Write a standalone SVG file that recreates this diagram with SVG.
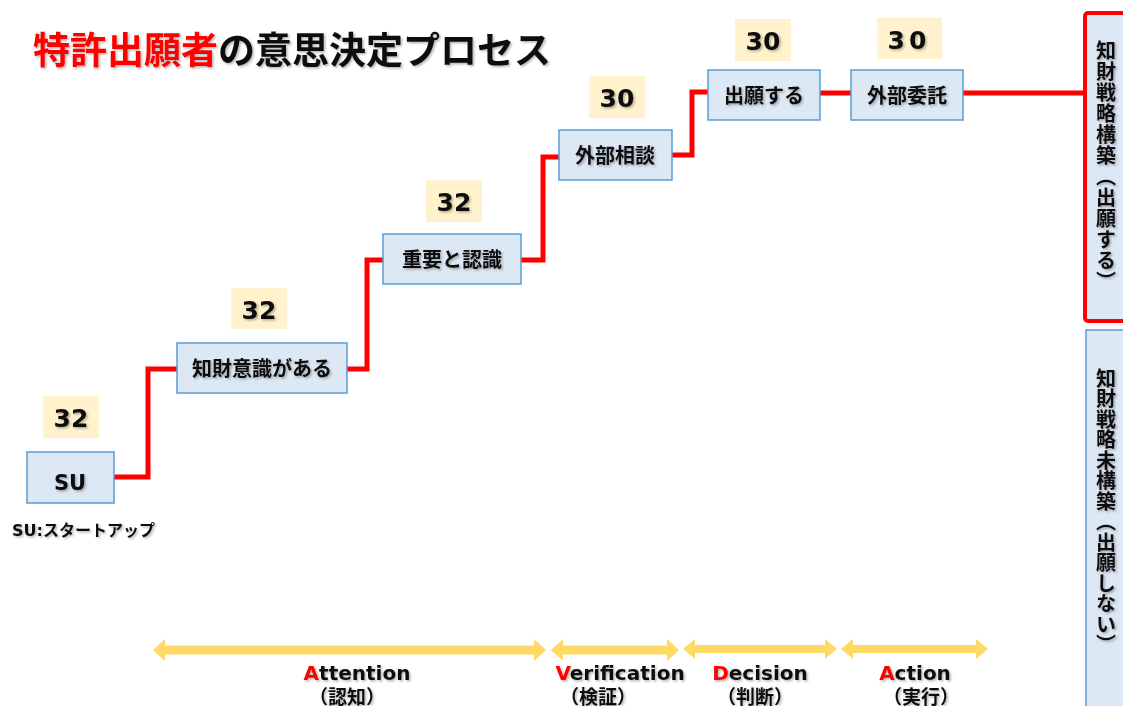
<svg xmlns="http://www.w3.org/2000/svg" width="1123" height="706" viewBox="0 0 1123 706">
  <defs>
    <filter id="sh" x="-10%" y="-30%" width="130%" height="160%">
      <feDropShadow dx="1.5" dy="1.5" stdDeviation="1" flood-color="#000" flood-opacity="0.3"/>
    </filter>
  </defs>
  <style>
    .t { font-family: "DejaVu Sans", "Noto Sans CJK JP", sans-serif; font-weight: bold; fill: #111; }
    .box { fill: #dde8f5; stroke: #5b9bd5; stroke-width: 1.5; }
    .num { fill: #fff2cc; }
    .conn { fill: none; stroke: #ff0000; stroke-width: 5; stroke-linejoin: miter; }
    .arrow { fill: #ffd966; }
    .red { fill: #ff0000; }
    .vt { writing-mode: vertical-rl; font-family: "Noto Sans CJK JP", sans-serif; font-weight: bold; fill: #111; font-size: 20px; }
  </style>
  <rect width="1123" height="706" fill="#ffffff"/>

  <!-- Title -->
  <text class="t" x="33" y="64" font-size="37" filter="url(#sh)" style="font-family:'Noto Sans CJK JP',sans-serif"><tspan class="red">特許出願者</tspan>の意思決定プロセス</text>

  <!-- Connectors -->
  <g id="connectors">
    <path class="conn" d="M114,477 H148 V369 H177"/>
    <path class="conn" d="M347,369 H367 V260 H383"/>
    <path class="conn" d="M521,260 H543 V157 H559"/>
    <path class="conn" d="M672,155 H692 V92 H708"/>
    <path class="conn" d="M820,93 H851"/>
    <path class="conn" d="M963,93 H1085"/>
  </g>

  <!-- Nodes -->
  <g id="node-su">
    <rect class="num" x="43" y="396" width="56" height="42"/>
    <text class="t" x="71" y="427" font-size="25" text-anchor="middle" filter="url(#sh)">32</text>
    <rect class="box" x="27" y="452" width="87" height="51"/>
    <text class="t" x="70" y="490" font-size="21" text-anchor="middle" filter="url(#sh)">SU</text>
    <text class="t" x="12" y="536" font-size="16" filter="url(#sh)">SU:スタートアップ</text>
  </g>
  <g id="node-chizai">
    <rect class="num" x="231" y="288" width="56" height="41"/>
    <text class="t" x="259" y="319" font-size="25" text-anchor="middle" filter="url(#sh)">32</text>
    <rect class="box" x="177" y="343" width="170" height="50"/>
    <text class="t" x="262" y="376" font-size="20" text-anchor="middle" filter="url(#sh)">知財意識がある</text>
  </g>
  <g id="node-juyo">
    <rect class="num" x="426" y="180" width="56" height="42"/>
    <text class="t" x="454" y="211" font-size="25" text-anchor="middle" filter="url(#sh)">32</text>
    <rect class="box" x="383" y="234" width="138" height="50"/>
    <text class="t" x="452" y="267" font-size="20" text-anchor="middle" filter="url(#sh)">重要と認識</text>
  </g>
  <g id="node-sodan">
    <rect class="num" x="589" y="76" width="56" height="42"/>
    <text class="t" x="617" y="107" font-size="25" text-anchor="middle" filter="url(#sh)">30</text>
    <rect class="box" x="559" y="130" width="113" height="50"/>
    <text class="t" x="615" y="163" font-size="20" text-anchor="middle" filter="url(#sh)">外部相談</text>
  </g>
  <g id="node-shutsugan">
    <rect class="num" x="735" y="19" width="56" height="42"/>
    <text class="t" x="763" y="50" font-size="25" text-anchor="middle" filter="url(#sh)">30</text>
    <rect class="box" x="708" y="70" width="112" height="50"/>
    <text class="t" x="764" y="103" font-size="20" text-anchor="middle" filter="url(#sh)">出願する</text>
  </g>
  <g id="node-itaku">
    <rect class="num" x="877" y="18" width="65" height="41"/>
    <text class="t" x="909" y="49" font-size="25" text-anchor="middle" filter="url(#sh)" letter-spacing="4">30</text>
    <rect class="box" x="851" y="70" width="112" height="50"/>
    <text class="t" x="907" y="103" font-size="20" text-anchor="middle" filter="url(#sh)">外部委託</text>
  </g>
  <g id="node-kouchiku">
    <rect x="1085" y="13" width="60" height="308" rx="3" fill="#dde8f5" stroke="#ff0000" stroke-width="4"/>
    <text class="vt" x="1106" y="40" letter-spacing="1" filter="url(#sh)">知財戦略構築（出願する）</text>
  </g>
  <g id="node-mikouchiku">
    <rect class="box" x="1086" y="330" width="60" height="400"/>
    <text class="vt" x="1106" y="368" letter-spacing="0.5" filter="url(#sh)">知財戦略未構築（出願しない）</text>
  </g>

  <!-- Phase arrows -->
  <g id="phases">
    <path class="arrow" d="M153,650 L165,639 V645.5 H534 V639 L546,650 L534,661 V654.5 H165 V661 Z"/>
    <path class="arrow" d="M551,650 L563,639 V645.5 H667 V639 L679,650 L667,661 V654.5 H563 V661 Z"/>
    <path class="arrow" d="M683,649 L695,639 V645 H825 V639 L837,649 L825,659 V653 H695 V659 Z"/>
    <path class="arrow" d="M841,649 L853,639 V645 H976 V639 L988,649 L976,659 V653 H853 V659 Z"/>
    <text class="t" x="357" y="680" font-size="20" text-anchor="middle" filter="url(#sh)"><tspan class="red">A</tspan>ttention</text>
    <text class="t" x="347" y="704" font-size="19" text-anchor="middle" filter="url(#sh)">（認知）</text>
    <text class="t" x="620" y="680" font-size="20" text-anchor="middle" filter="url(#sh)"><tspan class="red">V</tspan>erification</text>
    <text class="t" x="598" y="704" font-size="19" text-anchor="middle" filter="url(#sh)">（検証）</text>
    <text class="t" x="760" y="680" font-size="20" text-anchor="middle" filter="url(#sh)"><tspan class="red">D</tspan>ecision</text>
    <text class="t" x="755" y="704" font-size="19" text-anchor="middle" filter="url(#sh)">（判断）</text>
    <text class="t" x="915" y="680" font-size="20" text-anchor="middle" filter="url(#sh)"><tspan class="red">A</tspan>ction</text>
    <text class="t" x="921" y="704" font-size="19" text-anchor="middle" filter="url(#sh)">（実行）</text>
  </g>
</svg>
